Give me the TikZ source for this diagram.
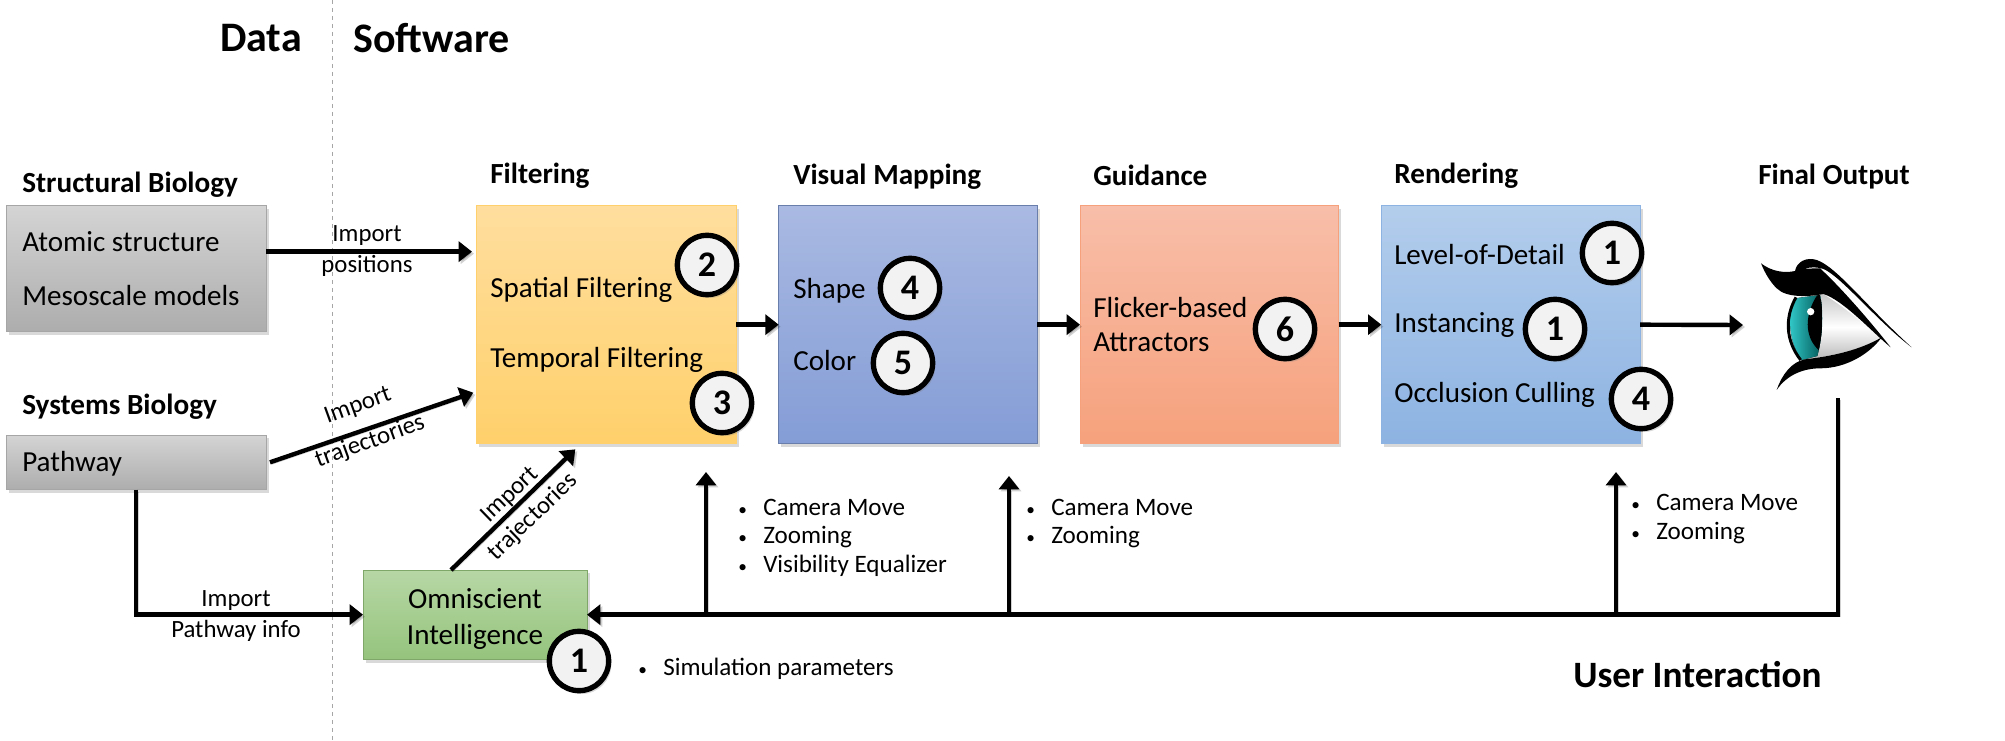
\documentclass[tikz,border=0pt]{standalone}
\usepackage{fontspec}
\setmainfont{Carlito}
\usepackage{tikz}
\usetikzlibrary{positioning,arrows.meta,shadows}
\definecolor{graytop}{HTML}{D4D4D4}
\definecolor{graybot}{HTML}{ADADAD}
\definecolor{filtertop}{HTML}{FFDE9E}
\definecolor{filterbot}{HTML}{FFD06B}
\definecolor{visualtop}{HTML}{A9B9E2}
\definecolor{visualbot}{HTML}{849DD6}
\definecolor{guidetop}{HTML}{F8BEA9}
\definecolor{guidebot}{HTML}{F6A17C}
\definecolor{rendertop}{HTML}{B3CDEC}
\definecolor{renderbot}{HTML}{8DB3E2}
\definecolor{omnitop}{HTML}{B7D7A5}
\definecolor{omnibot}{HTML}{95C47D}
\tikzset{
  softshadow/.style={drop shadow={opacity=.3,shadow xshift=2pt,shadow yshift=-2.5pt}},
  stagebox/.style={draw,rectangle,line width=.75pt,minimum width=194pt,minimum height=178pt,outer sep=0pt,softshadow},
  sourcebox/.style={stagebox,draw=black!35,top color=graytop,bottom color=graybot,minimum width=195pt},
  numdisc/.style={draw,circle,line width=4pt,fill=black!5,minimum size=44.5pt,inner sep=0pt,outer sep=0pt,
    font=\fontsize{27}{30}\selectfont\bfseries,softshadow},
  bodylabel/.style={inner sep=0pt,anchor=west,yshift=-.6pt,font=\fontsize{21.8}{24}\selectfont},
  midlabel/.style={inner sep=0pt,font=\fontsize{18.6}{21}\selectfont},
  listlabel/.style={inner sep=0pt,anchor=west,yshift=-1.5pt,font=\fontsize{18.8}{21}\selectfont},
  headlabel/.style={inner sep=0pt,anchor=west,yshift=-1pt,font=\fontsize{21.9}{24}\selectfont\bfseries},
  titlelabel/.style={inner sep=0pt,font=\fontsize{31.5}{35}\selectfont\bfseries},
  flowarrow/.style={line width=3.3pt,-{Triangle[length=10pt,width=15pt]},
    preaction={draw=black,opacity=.18,transform canvas={xshift=1.5pt,yshift=-1.5pt}}}
}
\newcommand{\bulleted}[1]{\makebox[18.75pt][l]{\fontsize{13}{15}\selectfont\textbullet}#1}
\begin{document}
\begin{tikzpicture}[x=.75pt,y=-.75pt]
  \useasboundingbox (0,0) rectangle (2005,741);
  % split between data and software
  \coordinate (splittop) at (332,0);
  \coordinate (splitbot) at (332,741);
  \draw[black!35,line width=.75pt,dashed] (splittop) -- (splitbot);
  \node[titlelabel,anchor=east] (datatitle) at (302,38) {Data};
  \node[titlelabel,anchor=west] (softtitle) at (353,38) {Software};
  % sources
  \node[sourcebox,minimum height=94pt,anchor=north west] (atomicbox) at (6,206) {};
  \node[sourcebox,minimum height=41pt,anchor=north west] (pathwaybox) at (6,435) {};
  \node[headlabel] (structhead) at (22,183) {Structural Biology};
  \node[headlabel] (systemshead) at (22,405) {Systems Biology};
  \node[bodylabel] (atomictext) at (22,241) {Atomic structure};
  \node[bodylabel] (mesotext) at (22,295) {Mesoscale models};
  \node[bodylabel] (pathwaytext) at (22,463) {Pathway};
  % pipeline stages
  \node[stagebox,draw=filterbot,top color=filtertop,bottom color=filterbot,minimum width=195pt,anchor=north west] (filterbox) at (476,206) {};
  \node[stagebox,draw=visualbot!80!black,top color=visualtop,bottom color=visualbot,right=32pt of filterbox] (visualbox) {};
  \node[stagebox,draw=guidebot,top color=guidetop,bottom color=guidebot,right=32pt of visualbox] (guidebox) {};
  \node[stagebox,draw=renderbot,top color=rendertop,bottom color=renderbot,right=32pt of guidebox] (renderbox) {};
  \node[stagebox,draw=omnibot!85!black,top color=omnitop,bottom color=omnibot,minimum width=168pt,minimum height=67pt,anchor=north west,
    align=center,font=\fontsize{21.8}{27}\selectfont,inner sep=0pt,text depth=0pt] (omnibox) at (363,570) {\raisebox{-2pt}{Omniscient}\\\raisebox{-2pt}{Intelligence}};
  \node[headlabel] (filterhead) at (490,174) {Filtering};
  \node[headlabel] (visualhead) at (793,175) {Visual Mapping};
  \node[headlabel] (guidehead) at (1093,174) {Guidance};
  \node[headlabel] (renderhead) at (1394,174) {Rendering};
  \node[headlabel] (finalhead) at (1758,175) {Final Output};
  \node[bodylabel] (spatialtext) at (490,289) {Spatial Filtering};
  \node[bodylabel] (temporaltext) at (490,359) {Temporal Filtering};
  \node[bodylabel] (shapetext) at (793,290) {Shape};
  \node[bodylabel] (colortext) at (793,360) {Color};
  \node[bodylabel] (flickertext) at (1093,307) {Flicker-based};
  \node[bodylabel] (attracttext) at (1093,341) {Attractors};
  \node[bodylabel] (lodtext) at (1394,254) {Level-of-Detail};
  \node[bodylabel] (instancetext) at (1394,324) {Instancing};
  \node[bodylabel] (occlusiontext) at (1394,394) {Occlusion Culling};
  % connectors
  \coordinate (eyein) at (1743,325);
  \coordinate (eyeout) at (1838,398);
  \coordinate (filtertap) at (706,614);
  \coordinate (filtertip) at (706,472);
  \coordinate (visualtap) at (1009,614);
  \coordinate (visualtip) at (1009,476);
  \coordinate (rendertap) at (1616,614);
  \coordinate (rendertip) at (1616,472);
  \draw[flowarrow] ([yshift=12.75pt]atomicbox.east) -- ([xshift=-3pt,yshift=54.75pt]filterbox.west);
  \draw[flowarrow] ([xshift=3pt]pathwaybox.east) -- ([xshift=-2pt,yshift=-51pt]filterbox.west);
  \draw[flowarrow] ([xshift=-18pt]omnibox.north) -- ([xshift=-23pt,yshift=-4.5pt]filterbox.south);
  \draw[flowarrow] (filterbox.east) -- (visualbox.west);
  \draw[flowarrow] (visualbox.east) -- (guidebox.west);
  \draw[flowarrow] (guidebox.east) -- (renderbox.west);
  \draw[flowarrow] (renderbox.east) -- (eyein);
  \draw[flowarrow] (pathwaybox.south) |- (omnibox.west);
  \draw[flowarrow] (eyeout) |- (omnibox.east);
  \draw[flowarrow] (filtertap) -- (filtertip);
  \draw[flowarrow] (visualtap) -- (visualtip);
  \draw[flowarrow] (rendertap) -- (rendertip);
  % connector labels
  \node[midlabel] (importa) at (367,236) {Import};
  \node[midlabel] (importb) at (367,266) {positions};
  \node[midlabel,rotate=20] (importc) at (358,406) {Import};
  \node[midlabel,rotate=20] (importd) at (370,442) {trajectories};
  \node[midlabel,rotate=44] (importe) at (510,495) {Import};
  \node[midlabel,rotate=44] (importf) at (533,517) {trajectories};
  \node[midlabel] (importg) at (236,601) {Import};
  \node[midlabel] (importh) at (236,631) {Pathway info};
  % interaction lists
  \node[listlabel] (lista) at (738,505) {\bulleted{Camera Move}};
  \node[listlabel] (listb) at (738,535) {\bulleted{Zooming}};
  \node[listlabel] (listc) at (738,564) {\bulleted{Visibility Equalizer}};
  \node[listlabel] (listd) at (1026,505) {\bulleted{Camera Move}};
  \node[listlabel] (liste) at (1026,535) {\bulleted{Zooming}};
  \node[listlabel] (listf) at (1631,500) {\bulleted{Camera Move}};
  \node[listlabel] (listg) at (1631,531) {\bulleted{Zooming}};
  \node[listlabel] (listh) at (638,667) {\bulleted{Simulation parameters}};
  \node[titlelabel,anchor=west,font=\fontsize{27.9}{31}\selectfont\bfseries] (usertitle) at (1573,675) {User Interaction};
  % numbered discs
  \node[numdisc] (disca) at (707,265) {2};
  \node[numdisc] (discb) at (722,403) {3};
  \node[numdisc] (discc) at (910,288) {4};
  \node[numdisc] (discd) at (903,363) {5};
  \node[numdisc] (disce) at (1285,329) {6};
  \node[numdisc] (discf) at (1612,253) {1};
  \node[numdisc] (discg) at (1555,329) {1};
  \node[numdisc] (disch) at (1641,399) {4};
  \node[numdisc] (disci) at (579,661) {1};
  % eye
  \begin{scope}[shift={(1680,220)},scale=1/3]
    \path[top color=black!22,bottom color=black!28,middle color=white]
      (345,235) -- (430,222) .. controls (490,260) and (550,310) .. (605,355)
      .. controls (540,390) and (470,405) .. (365,420) .. controls (335,380) and (315,300) .. (345,235) -- cycle;
    \begin{scope}
      \clip (345,235) -- (420,225) .. controls (430,270) and (430,340) .. (412,408) -- (365,420) .. controls (335,380) and (315,300) .. (345,235) -- cycle;
      \fill[left color=teal!50!cyan!80!white,right color=teal!65!black] (325,225) rectangle (430,425);
      \fill[black] (412,225) .. controls (375,280) and (370,350) .. (418,392) .. controls (432,340) and (432,270) .. (420,225) -- cycle;
    \end{scope}
    \fill[white] (392,275) circle (11);
    \draw[line width=2.2pt] (348,232) .. controls (315,290) and (315,360) .. (362,420);
    \fill[black] (290,510) .. controls (305,465) and (335,425) .. (375,418) .. controls (460,408) and (540,390) .. (605,352)
      .. controls (570,400) and (500,445) .. (420,445) .. controls (370,445) and (320,465) .. (290,510) -- cycle;
    \fill[black] (243,130) .. controls (275,155) and (315,160) .. (345,153) .. controls (350,125) and (380,110) .. (410,120)
      .. controls (470,140) and (560,260) .. (695,382) .. controls (600,310) and (500,190) .. (445,155)
      .. controls (425,140) and (395,140) .. (372,146) -- (420,145) .. controls (470,190) and (560,290) .. (632,382)
      .. controls (580,340) and (490,240) .. (430,222) .. controls (390,230) and (320,235) .. (290,205) .. controls (270,185) and (255,160) .. (243,130) -- cycle;
  \end{scope}
\end{tikzpicture}
\end{document}
